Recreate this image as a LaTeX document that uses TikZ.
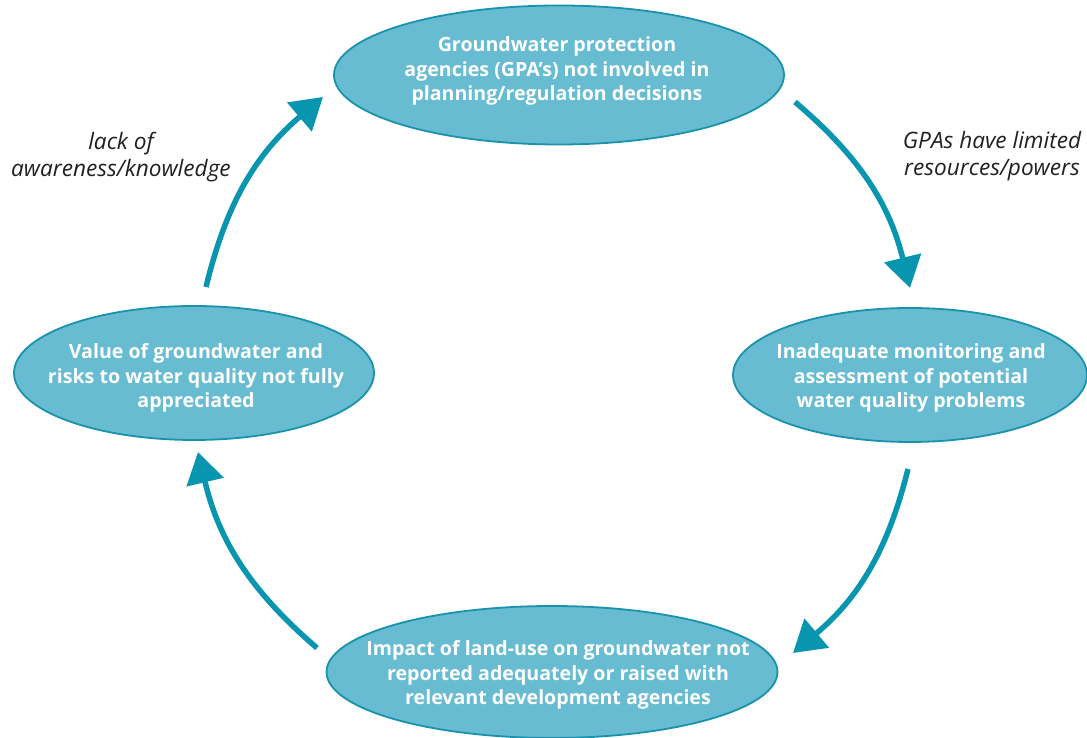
\documentclass[tikz,border=0pt]{standalone}
\usepackage{fontspec}
\setmainfont{Open Sans}
\usetikzlibrary{shapes.geometric,arrows.meta}
\definecolor{ellfill}{HTML}{67BCD2}
\definecolor{elldraw}{HTML}{1A92AB}
\definecolor{arrcol}{HTML}{0895AF}
\definecolor{labcol}{HTML}{231F20}
\begin{document}
\begin{tikzpicture}[x=1pt,y=1pt,
  ell/.style={ellipse,draw=elldraw,fill=ellfill,line width=1.8pt,inner sep=0pt},
  etxt/.style={align=center,text=white,font=\bfseries\fontsize{19.6}{24.5}\selectfont,inner sep=0pt},
  ltxt/.style={align=center,text=labcol,font=\itshape\fontsize{22.6}{27}\selectfont,inner sep=0pt},
  cyc/.style={draw=arrcol,line width=5.5pt,-{Triangle[length=31pt,width=37pt]}}]
\useasboundingbox (0,0) rectangle (1087,738);
% ellipses
\node[ell,minimum width=450pt,minimum height=139pt] (top) at (559,663) {};
\node[ell,minimum width=354pt,minimum height=134pt] (right) at (910,363) {};
\node[ell,minimum width=451pt,minimum height=132pt] (bottom) at (552,66) {};
\node[ell,minimum width=360pt,minimum height=134pt] (left) at (194,365) {};
% texts
\node[etxt] (topt) at (557,667) {Groundwater protection\\agencies (GPA’s) not involved in\\planning/regulation decisions};
\node[etxt] (rightt) at (911,360) {Inadequate monitoring and\\assessment of potential\\water quality problems};
\node[etxt] (bottomt) at (558,63) {Impact of land-use on groundwater not\\reported adequately or raised with\\relevant development agencies};
\node[etxt] (leftt) at (196,360) {Value of groundwater and\\risks to water quality not fully\\appreciated};
% labels
\node[ltxt] (lab1) at (121,581) {lack of\\awareness/knowledge};
\node[ltxt] (lab2) at (992,582) {GPAs have limited\\resources/powers};
% arrow end points
\coordinate (a1s) at (206,451); \coordinate (a1e) at (323,641);
\coordinate (a2s) at (795,636); \coordinate (a2e) at (910,450);
\coordinate (a3s) at (908,269); \coordinate (a3e) at (793,85);
\coordinate (a4s) at (317,90);  \coordinate (a4e) at (198,286);
\draw[cyc] (a1s) to[bend left=18] (a1e);
\draw[cyc] (a2s) to[bend left=18] (a2e);
\draw[cyc] (a3s) to[bend left=18] (a3e);
\draw[cyc] (a4s) to[bend left=18] (a4e);
\end{tikzpicture}
\end{document}
